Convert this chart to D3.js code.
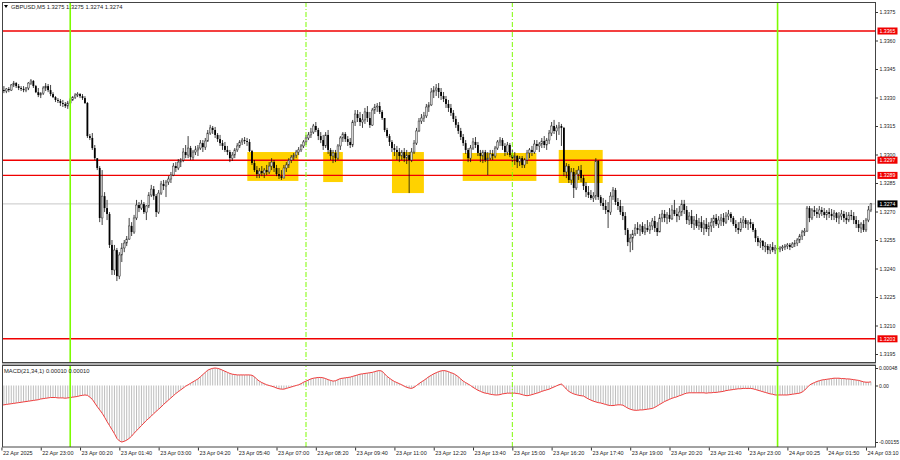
<!DOCTYPE html>
<html><head><meta charset="utf-8">
<script src="https://cdn.jsdelivr.net/npm/d3@7"></script>
<style>
html,body{margin:0;padding:0;background:#fff;}
svg{display:block;}
text{font-family:"Liberation Sans",Arial,sans-serif;}
</style></head>
<body><svg id="c" width="900" height="460"></svg>
<script>
// ---------- DATA ----------
const symbolTitle = "GBPUSD,M5  1.3275 1.3275 1.3274 1.3274";
const macdTitle = "MACD(21,34,1) 0.00010 0.00010";
const firstOpen = 1.33366;
const highs = [1.33381,1.33360,1.33350,1.33355,1.33371,1.33387,1.33381,1.33371,1.33360,1.33360,1.33355,1.33381,1.33397,1.33392,1.33366,1.33350,1.33328,1.33360,1.33376,1.33371,1.33366,1.33328,1.33307,1.33297,1.33292,1.33287,1.33276,1.33282,1.33297,1.33307,1.33323,1.33328,1.33323,1.33318,1.33307,1.33276,1.33108,1.33113,1.33050,1.32976,1.32939,1.32918,1.32802,1.32761,1.32697,1.32550,1.32524,1.32508,1.32486,1.32534,1.32550,1.32571,1.32666,1.32644,1.32682,1.32761,1.32750,1.32761,1.32750,1.32734,1.32802,1.32840,1.32834,1.32792,1.32813,1.32861,1.32866,1.32866,1.32886,1.32908,1.32955,1.32960,1.32976,1.32981,1.33034,1.33050,1.33097,1.33045,1.33024,1.33045,1.33050,1.33076,1.33076,1.33087,1.33129,1.33156,1.33150,1.33145,1.33113,1.33103,1.33076,1.33066,1.33045,1.33024,1.33013,1.33034,1.33060,1.33076,1.33087,1.33092,1.33087,1.33081,1.33024,1.32971,1.32939,1.32929,1.32939,1.32929,1.32945,1.32960,1.32981,1.32971,1.32945,1.32929,1.32918,1.32945,1.32960,1.32981,1.32997,1.33008,1.33024,1.33039,1.33055,1.33076,1.33103,1.33118,1.33140,1.33161,1.33171,1.33140,1.33118,1.33103,1.33118,1.33129,1.33034,1.33024,1.33024,1.33055,1.33097,1.33118,1.33118,1.33097,1.33087,1.33182,1.33234,1.33234,1.33224,1.33213,1.33245,1.33255,1.33224,1.33245,1.33266,1.33271,1.33276,1.33234,1.33192,1.33140,1.33108,1.33076,1.33055,1.33045,1.33034,1.33024,1.33034,1.33024,1.33013,1.33034,1.33076,1.33140,1.33192,1.33213,1.33224,1.33266,1.33276,1.33350,1.33360,1.33371,1.33376,1.33350,1.33329,1.33308,1.33287,1.33266,1.33234,1.33203,1.33171,1.33140,1.33108,1.33076,1.33034,1.33050,1.33087,1.33092,1.33066,1.33024,1.33024,1.33024,1.33013,1.33024,1.33024,1.33045,1.33076,1.33092,1.33087,1.33060,1.33066,1.33060,1.33024,1.33013,1.32997,1.32992,1.32992,1.32981,1.33024,1.33034,1.33045,1.33076,1.33076,1.33066,1.33087,1.33097,1.33087,1.33129,1.33171,1.33182,1.33156,1.33171,1.33161,1.33145,1.32955,1.32950,1.32929,1.32929,1.32918,1.32939,1.32945,1.32892,1.32855,1.32834,1.32813,1.32802,1.32981,1.32971,1.32787,1.32771,1.32761,1.32750,1.32802,1.32829,1.32824,1.32771,1.32761,1.32729,1.32697,1.32613,1.32582,1.32603,1.32634,1.32644,1.32634,1.32644,1.32634,1.32655,1.32644,1.32666,1.32676,1.32644,1.32687,1.32708,1.32708,1.32697,1.32718,1.32734,1.32761,1.32718,1.32729,1.32761,1.32761,1.32729,1.32697,1.32708,1.32676,1.32687,1.32666,1.32676,1.32655,1.32666,1.32644,1.32666,1.32682,1.32687,1.32676,1.32687,1.32692,1.32697,1.32708,1.32697,1.32676,1.32655,1.32644,1.32666,1.32676,1.32666,1.32655,1.32661,1.32644,1.32613,1.32571,1.32560,1.32550,1.32539,1.32529,1.32529,1.32539,1.32524,1.32524,1.32518,1.32524,1.32529,1.32534,1.32534,1.32539,1.32550,1.32560,1.32582,1.32603,1.32613,1.32729,1.32729,1.32718,1.32729,1.32718,1.32729,1.32724,1.32718,1.32708,1.32718,1.32713,1.32708,1.32697,1.32697,1.32708,1.32703,1.32697,1.32697,1.32708,1.32697,1.32676,1.32655,1.32644,1.32655,1.32666,1.32729,1.32745];
const lows = [1.33323,1.33323,1.33323,1.33328,1.33334,1.33355,1.33350,1.33339,1.33334,1.33328,1.33328,1.33339,1.33366,1.33350,1.33323,1.33302,1.33297,1.33313,1.33334,1.33328,1.33307,1.33297,1.33276,1.33271,1.33255,1.33250,1.33245,1.33240,1.33266,1.33282,1.33292,1.33302,1.33297,1.33287,1.33266,1.33087,1.33076,1.33024,1.32971,1.32918,1.32644,1.32629,1.32697,1.32655,1.32508,1.32366,1.32366,1.32334,1.32344,1.32434,1.32486,1.32518,1.32550,1.32571,1.32582,1.32655,1.32697,1.32708,1.32687,1.32655,1.32718,1.32776,1.32761,1.32671,1.32687,1.32787,1.32813,1.32776,1.32840,1.32850,1.32886,1.32908,1.32918,1.32934,1.32960,1.32981,1.32981,1.32971,1.32971,1.32997,1.32992,1.33024,1.33013,1.33024,1.33066,1.33103,1.33108,1.33087,1.33066,1.33045,1.33024,1.33013,1.32997,1.32960,1.32966,1.32981,1.33013,1.33034,1.33050,1.33055,1.33045,1.33013,1.32945,1.32908,1.32876,1.32876,1.32886,1.32876,1.32892,1.32897,1.32918,1.32908,1.32886,1.32871,1.32866,1.32876,1.32908,1.32929,1.32955,1.32971,1.32981,1.32997,1.33013,1.33034,1.33050,1.33076,1.33087,1.33108,1.33118,1.33076,1.33060,1.33024,1.33034,1.33003,1.32971,1.32955,1.32960,1.32971,1.33024,1.33066,1.33066,1.33045,1.33034,1.33039,1.33150,1.33171,1.33150,1.33140,1.33161,1.33171,1.33140,1.33150,1.33213,1.33224,1.33213,1.33182,1.33118,1.33087,1.33045,1.33013,1.32992,1.32971,1.32960,1.32971,1.32960,1.32950,1.32797,1.32960,1.33003,1.33050,1.33118,1.33161,1.33171,1.33192,1.33224,1.33255,1.33297,1.33308,1.33297,1.33287,1.33276,1.33245,1.33224,1.33203,1.33171,1.33140,1.33108,1.33076,1.33045,1.33003,1.32960,1.32960,1.33024,1.33034,1.32992,1.32960,1.32955,1.32960,1.32892,1.32971,1.32971,1.32981,1.33024,1.33045,1.33024,1.32992,1.32997,1.32986,1.32960,1.32945,1.32929,1.32939,1.32929,1.32929,1.32950,1.32981,1.32992,1.33003,1.33024,1.33013,1.33034,1.33034,1.33024,1.33055,1.33097,1.33108,1.33076,1.33103,1.33045,1.32886,1.32876,1.32850,1.32840,1.32771,1.32813,1.32866,1.32855,1.32813,1.32776,1.32771,1.32761,1.32750,1.32761,1.32761,1.32729,1.32708,1.32687,1.32613,1.32682,1.32761,1.32734,1.32708,1.32682,1.32655,1.32576,1.32518,1.32486,1.32497,1.32571,1.32582,1.32571,1.32582,1.32576,1.32592,1.32582,1.32603,1.32592,1.32571,1.32592,1.32644,1.32644,1.32634,1.32644,1.32655,1.32676,1.32644,1.32655,1.32676,1.32687,1.32634,1.32629,1.32613,1.32603,1.32613,1.32603,1.32592,1.32576,1.32592,1.32571,1.32592,1.32613,1.32624,1.32613,1.32624,1.32624,1.32634,1.32655,1.32644,1.32624,1.32592,1.32582,1.32592,1.32613,1.32613,1.32603,1.32613,1.32592,1.32539,1.32518,1.32508,1.32497,1.32486,1.32476,1.32476,1.32486,1.32476,1.32486,1.32486,1.32492,1.32497,1.32502,1.32497,1.32508,1.32513,1.32518,1.32534,1.32550,1.32571,1.32592,1.32644,1.32655,1.32676,1.32666,1.32666,1.32676,1.32666,1.32655,1.32666,1.32655,1.32655,1.32644,1.32634,1.32655,1.32644,1.32634,1.32644,1.32655,1.32634,1.32613,1.32592,1.32587,1.32592,1.32592,1.32644,1.32697];
const closes = [1.33339,1.33334,1.33345,1.33339,1.33366,1.33376,1.33360,1.33350,1.33345,1.33339,1.33350,1.33376,1.33387,1.33360,1.33328,1.33313,1.33323,1.33350,1.33360,1.33339,1.33318,1.33302,1.33287,1.33282,1.33271,1.33266,1.33255,1.33271,1.33287,1.33302,1.33313,1.33318,1.33307,1.33297,1.33271,1.33097,1.33087,1.33034,1.32981,1.32929,1.32666,1.32781,1.32718,1.32687,1.32524,1.32392,1.32497,1.32360,1.32471,1.32508,1.32534,1.32555,1.32624,1.32592,1.32666,1.32734,1.32718,1.32739,1.32697,1.32729,1.32787,1.32818,1.32781,1.32697,1.32797,1.32845,1.32834,1.32855,1.32871,1.32892,1.32939,1.32929,1.32960,1.32971,1.33013,1.32997,1.33034,1.32986,1.33013,1.33024,1.33034,1.33060,1.33039,1.33071,1.33113,1.33140,1.33129,1.33103,1.33081,1.33060,1.33045,1.33024,1.33013,1.32981,1.32997,1.33024,1.33045,1.33066,1.33076,1.33071,1.33066,1.33018,1.32955,1.32918,1.32897,1.32913,1.32902,1.32918,1.32908,1.32939,1.32960,1.32929,1.32897,1.32886,1.32876,1.32929,1.32945,1.32971,1.32986,1.32997,1.33013,1.33024,1.33045,1.33066,1.33087,1.33103,1.33118,1.33150,1.33129,1.33097,1.33076,1.33045,1.33103,1.33024,1.32992,1.33008,1.32981,1.33045,1.33087,1.33108,1.33081,1.33066,1.33050,1.33171,1.33213,1.33192,1.33171,1.33182,1.33224,1.33192,1.33155,1.33234,1.33250,1.33255,1.33224,1.33192,1.33129,1.33097,1.33066,1.33034,1.33024,1.33013,1.32992,1.33013,1.32981,1.32997,1.32971,1.33013,1.33060,1.33124,1.33176,1.33192,1.33203,1.33250,1.33261,1.33329,1.33339,1.33350,1.33329,1.33308,1.33292,1.33266,1.33245,1.33219,1.33187,1.33156,1.33124,1.33092,1.33060,1.33024,1.32981,1.33034,1.33066,1.33050,1.33008,1.32992,1.33013,1.32971,1.32981,1.33003,1.32992,1.33034,1.33066,1.33076,1.33045,1.33013,1.33050,1.32997,1.32981,1.32992,1.32960,1.32981,1.32945,1.32971,1.33008,1.33024,1.33013,1.33055,1.33045,1.33055,1.33071,1.33050,1.33076,1.33113,1.33150,1.33124,1.33140,1.33150,1.33140,1.32908,1.32939,1.32866,1.32908,1.32824,1.32897,1.32918,1.32876,1.32834,1.32802,1.32787,1.32771,1.32781,1.32966,1.32776,1.32745,1.32729,1.32708,1.32697,1.32781,1.32813,1.32750,1.32729,1.32697,1.32676,1.32603,1.32539,1.32560,1.32582,1.32613,1.32603,1.32624,1.32592,1.32613,1.32603,1.32624,1.32650,1.32613,1.32592,1.32666,1.32687,1.32666,1.32682,1.32661,1.32708,1.32687,1.32676,1.32697,1.32739,1.32708,1.32655,1.32676,1.32634,1.32655,1.32624,1.32644,1.32613,1.32634,1.32608,1.32624,1.32644,1.32666,1.32634,1.32655,1.32666,1.32644,1.32676,1.32687,1.32666,1.32634,1.32613,1.32603,1.32644,1.32655,1.32634,1.32644,1.32634,1.32603,1.32560,1.32539,1.32545,1.32518,1.32518,1.32497,1.32513,1.32497,1.32508,1.32502,1.32508,1.32513,1.32518,1.32524,1.32513,1.32529,1.32534,1.32550,1.32571,1.32592,1.32597,1.32718,1.32666,1.32708,1.32697,1.32687,1.32708,1.32697,1.32682,1.32697,1.32687,1.32676,1.32692,1.32666,1.32676,1.32687,1.32666,1.32655,1.32682,1.32676,1.32655,1.32634,1.32613,1.32634,1.32603,1.32655,1.32708,1.32740];
const macd = [-54,-53,-52,-51,-50,-49,-48,-47,-46,-45,-44,-43,-42,-41,-40,-39,-37,-36,-35,-34,-33,-33,-33,-34,-34,-34,-35,-34,-33,-32,-31,-30,-28,-27,-26,-27,-32,-38,-48,-58,-67,-76,-87,-99,-110,-121,-132,-145,-152,-155,-153,-150,-145,-139,-131,-124,-117,-110,-103,-96,-90,-84,-77,-71,-65,-59,-52,-46,-40,-34,-28,-22,-17,-12,-7,-2,2,6,10,14,18,24,30,36,42,45,47,48,47,45,42,39,36,33,31,30,29,29,29,29,29,29,28,24,17,12,8,5,2,0,-2,-4,-7,-9,-10,-10,-8,-6,-4,-2,0,2,5,9,12,15,18,20,21,22,22,21,19,16,14,12,13,16,19,20,21,22,23,25,27,29,31,32,33,34,35,36,38,40,41,39,32,25,20,15,11,8,5,2,-2,-5,-7,-8,-5,0,5,10,14,19,24,28,32,35,38,40,41,40,38,35,33,29,24,18,12,8,4,0,-5,-9,-13,-16,-19,-21,-22,-24,-25,-26,-26,-25,-23,-22,-21,-21,-21,-21,-22,-23,-25,-27,-28,-27,-25,-23,-21,-19,-16,-14,-12,-10,-7,-4,-1,2,4,-2,-10,-16,-20,-23,-25,-27,-28,-29,-33,-37,-40,-43,-45,-47,-48,-50,-52,-54,-55,-55,-54,-53,-53,-54,-58,-62,-65,-67,-68,-68,-67,-67,-66,-65,-64,-63,-60,-56,-52,-48,-44,-41,-38,-35,-33,-31,-28,-26,-23,-21,-20,-20,-20,-20,-20,-20,-20,-21,-20,-20,-19,-19,-18,-17,-16,-14,-13,-12,-11,-10,-9,-9,-8,-8,-8,-8,-9,-11,-13,-15,-17,-19,-21,-23,-24,-26,-26,-26,-26,-26,-26,-25,-24,-23,-22,-21,-18,-13,-6,1,5,8,11,13,15,16,17,18,19,20,20,20,19,19,18,18,17,16,15,14,12,10,9,9,10].map(v => v / 100000);
const timeLabels = ["22 Apr 2025","22 Apr 23:00","23 Apr 00:20","23 Apr 01:40","23 Apr 03:00","23 Apr 04:20","23 Apr 05:40","23 Apr 07:00","23 Apr 08:20","23 Apr 09:40","23 Apr 11:00","23 Apr 12:20","23 Apr 13:40","23 Apr 15:00","23 Apr 16:20","23 Apr 17:40","23 Apr 19:00","23 Apr 20:20","23 Apr 21:40","23 Apr 23:00","24 Apr 00:25","24 Apr 01:50","24 Apr 03:10"];
const timeLabelBars = timeLabels.map((d, i) => i * 16);
const priceTicks = [1.3375,1.3360,1.3345,1.3330,1.3315,1.3300,1.3285,1.3270,1.3255,1.3240,1.3225,1.3210,1.3195];
const macdTicks = [0.00048, 0, -0.00155];
const macdTickLabels = ["0.00048","0.00","-0.00155"];
const levels = [1.3365, 1.3297, 1.3289, 1.3203];
const bidPrice = 1.3274;
const solidVLines = [28, 316];   // bar indexes
const dashedVLines = [124, 208];
// zones: [startBar, endBar, topPrice, bottomPrice]
const zones = [[100.1,120.9,1.33013,1.32861],[131,139,1.33013,1.32855],[159,172,1.33013,1.32797],[187.8,217.8,1.33008,1.32861],[226.9,244.8,1.33024,1.32850]];

// ---------- DRAW ----------
const svg = d3.select("#c");
const L = 2, R = 875, T = 2, MB = 362, MT = 366, B = 447;
const n = closes.length;
const x = d3.scaleLinear().domain([0, n - 1]).range([1.45, 870.9]);
const y = d3.scaleLinear().domain([1.3195, 1.3375]).range([354, 12]);
const ym = d3.scaleLinear().domain([-0.00155, 0.00048]).range([442, 368]);
const opens = closes.map((c, i) => i === 0 ? firstOpen : closes[i - 1]);
const FONT = "Liberation Sans, Arial, sans-serif";

svg.append("defs").html(`<clipPath id="cm"><rect x="${L}" y="${T}" width="${R-L}" height="${MB-T}"/></clipPath><clipPath id="cd"><rect x="${L}" y="${MT}" width="${R-L}" height="${B-MT}"/></clipPath>`);

const main = svg.append("g").attr("clip-path", "url(#cm)");
// zones
main.selectAll("rect.z").data(zones).join("rect")
  .attr("x", d => x(d[0])).attr("width", d => x(d[1]) - x(d[0]))
  .attr("y", d => y(d[2])).attr("height", d => y(d[3]) - y(d[2]))
  .attr("fill", "#ffd200");
// bid line
main.append("line").attr("x1", L).attr("x2", R).attr("y1", y(bidPrice)).attr("y2", y(bidPrice))
  .attr("stroke", "#c8c8c8").attr("stroke-width", 1);
// levels
main.selectAll("line.lv").data(levels).join("line")
  .attr("x1", L).attr("x2", R).attr("y1", d => y(d)).attr("y2", d => y(d))
  .attr("stroke", "#f00000").attr("stroke-width", (d,i) => (i === 2 ? 1.2 : 1.6));
// candles
const cg = main.append("g");
cg.selectAll("line.w").data(closes).join("line")
  .attr("x1", (d, i) => x(i)).attr("x2", (d, i) => x(i))
  .attr("y1", (d, i) => y(highs[i])).attr("y2", (d, i) => y(lows[i]))
  .attr("stroke", "#111").attr("stroke-width", 0.8);
cg.selectAll("rect.b").data(closes).join("rect")
  .attr("x", (d, i) => x(i) - 0.9).attr("width", 1.8)
  .attr("y", (d, i) => y(Math.max(d, opens[i])))
  .attr("height", (d, i) => Math.max(0.8, Math.abs(y(d) - y(opens[i]))))
  .attr("fill", (d, i) => d >= opens[i] ? "#d8d8d8" : "#000")
  .attr("stroke", (d, i) => d >= opens[i] ? "#333" : "none")
  .attr("stroke-width", 0.5);

// MACD panel
const mg = svg.append("g").attr("clip-path", "url(#cd)");
mg.selectAll("line.h").data(macd).join("line")
  .attr("x1", (d, i) => x(i)).attr("x2", (d, i) => x(i))
  .attr("y1", ym(0)).attr("y2", d => ym(d))
  .attr("stroke", "#bdbdbd").attr("stroke-width", 1);
mg.append("path").datum(macd)
  .attr("d", d3.line().x((d, i) => x(i)).y(d => ym(d)))
  .attr("fill", "none").attr("stroke", "#f03c3c").attr("stroke-width", 1);

// vertical lines
svg.selectAll("line.sv").data(solidVLines).join("line")
  .attr("x1", d => x(d)).attr("x2", d => x(d)).attr("y1", T).attr("y2", B)
  .attr("stroke", "#7cfc00").attr("stroke-width", 1.6);
svg.selectAll("line.dv").data(dashedVLines).join("line")
  .attr("x1", d => x(d)).attr("x2", d => x(d)).attr("y1", T).attr("y2", B)
  .attr("stroke", "#7cfc00").attr("stroke-width", 1).attr("stroke-dasharray", "5,2,1,2");

// frames
svg.append("rect").attr("x", L + 0.5).attr("y", T + 0.5).attr("width", R - L).attr("height", MB - T)
  .attr("fill", "none").attr("stroke", "#444");
svg.append("rect").attr("x", L).attr("y", MB + 1).attr("width", R - L + 1).attr("height", MT - MB - 2).attr("fill", "#b0b0b0");
svg.append("rect").attr("x", L + 0.5).attr("y", MT - 0.5).attr("width", R - L).attr("height", B - MT + 0.5)
  .attr("fill", "none").attr("stroke", "#444");

// price axis
const pa = svg.append("g").attr("transform", `translate(${R + 0.5},0)`)
  .call(d3.axisRight(y).tickValues(priceTicks).tickFormat(d3.format(".4f")).tickSize(2.5).tickPadding(1.5));
pa.select(".domain").remove();
pa.selectAll("line").attr("stroke", "#333");
pa.selectAll("text").attr("font-size", 5.2).attr("fill", "#222").attr("font-family", FONT);

// macd axis
const ma = svg.append("g").attr("transform", `translate(${R + 0.5},0)`)
  .call(d3.axisRight(ym).tickValues(macdTicks).tickFormat((d, i) => macdTickLabels[i]).tickSize(2.5).tickPadding(1));
ma.select(".domain").remove();
ma.selectAll("line").attr("stroke", "#333");
ma.selectAll("text").attr("font-size", 5.1).attr("fill", "#222").attr("font-family", FONT);

// level labels
const lab = svg.append("g");
const tags = levels.map(v => ({v, fill: "#f00000"})).concat([{v: bidPrice, fill: "#000"}]);
lab.selectAll("rect").data(tags).join("rect")
  .attr("x", R + 2.5).attr("width", 20).attr("y", d => y(d.v) - 3.5).attr("height", 7).attr("fill", d => d.fill);
lab.selectAll("text").data(tags).join("text")
  .attr("x", R + 4.5).attr("y", d => y(d.v)).attr("dy", "0.35em")
  .attr("font-size", 5.2).attr("fill", "#fff").attr("font-family", FONT).text(d => d3.format(".4f")(d.v));

// time axis
const ta = svg.append("g").attr("transform", `translate(0,${B + 0.5})`)
  .call(d3.axisBottom(x).tickValues(timeLabelBars).tickFormat((d, i) => timeLabels[i]).tickSize(3).tickPadding(1));
ta.select(".domain").remove();
ta.selectAll("line").attr("stroke", "#333");
ta.selectAll("text").attr("text-anchor", "start").attr("dx", "1").attr("font-size", 5.5).attr("fill", "#222")
  .attr("font-family", FONT);

// titles
svg.append("path").attr("d", "M4,5 L8,5 L6,8 Z").attr("fill", "#000");
svg.append("text").attr("x", 11).attr("y", 6.5).attr("dy", "0.35em").attr("font-size", 5.8).attr("fill", "#222").attr("font-family", FONT).text(symbolTitle);
svg.append("text").attr("x", 4).attr("y", 370.5).attr("dy", "0.35em").attr("font-size", 5.8).attr("fill", "#222").attr("font-family", FONT).text(macdTitle);
</script></body></html>
